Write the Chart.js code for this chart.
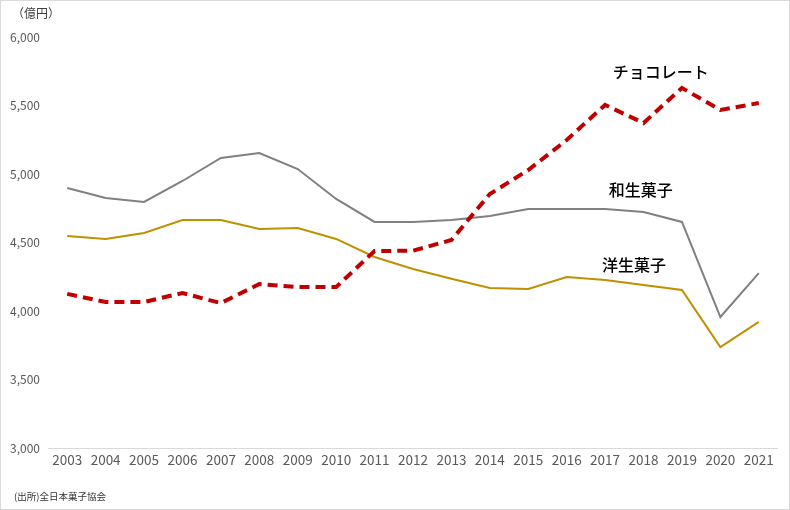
<!DOCTYPE html>
<html>
<head>
<meta charset="utf-8">
<script src="https://cdn.jsdelivr.net/npm/chart.js@4/dist/chart.umd.min.js"></script>
<style>
  html, body { margin: 0; padding: 0; background: #fff; }
  #wrap { position: relative; width: 790px; height: 510px; }
  #c { position: absolute; left: 0; top: 0; }
  #frame { position: absolute; left: 0; top: 0; width: 790px; height: 510px; box-sizing: border-box; border: 1px solid #d9d9d9; pointer-events: none; }
  .note { position: absolute; font-family: "Noto Sans CJK JP", sans-serif; color: #333; white-space: nowrap; }
</style>
</head>
<body>
<div id="wrap">
  <canvas id="c" width="790" height="510"></canvas>
  <div id="frame"></div>
  <div class="note" style="left:12px; top:4px; font-size:12px; color:#404040;">（億円）</div>
  <div class="note" style="left:14px; top:489px; font-size:9.5px; color:#333;">(出所)全日本菓子協会</div>
</div>
<script>
// 年
const years = ['2003','2004','2005','2006','2007','2008','2009','2010','2011','2012',
               '2013','2014','2015','2016','2017','2018','2019','2020','2021'];

// 億円
const chocolate = [4125, 4066, 4066, 4131, 4058, 4197, 4175, 4175, 4438, 4440,
                   4518, 4854, 5029, 5248, 5504, 5372, 5628, 5467, 5518];
const wagashi   = [4898, 4825, 4796, 4949, 5117, 5153, 5036, 4818, 4650, 4650,
                   4664, 4693, 4745, 4745, 4745, 4723, 4650, 3956, 4277];
const yogashi   = [4547, 4526, 4569, 4664, 4664, 4599, 4606, 4526, 4394, 4307,
                   4236, 4168, 4161, 4248, 4226, 4190, 4153, 3737, 3920];

const yTicks = [3000, 3500, 4000, 4500, 5000, 5500, 6000];

// 系列名ラベル（x: カテゴリ位置, y: 値）
const seriesLabels = [
    { text: 'チョコレート', x: 15.45, y: 5745 },
    { text: '和生菓子',     x: 14.93, y: 4883 },
    { text: '洋生菓子',     x: 14.75, y: 4336 },
];

const labelPlugin = {
    id: 'seriesLabels',
    afterDatasetsDraw(chart) {
        const { ctx, scales: { x, y } } = chart;
        const step = x.getPixelForValue(1) - x.getPixelForValue(0);
        ctx.save();
        ctx.font = '500 16px "Noto Sans CJK JP", sans-serif';
        ctx.fillStyle = '#000';
        ctx.textAlign = 'center';
        ctx.textBaseline = 'middle';
        seriesLabels.forEach(l => {
            const px = x.getPixelForValue(0) + step * l.x;
            ctx.fillText(l.text, px, y.getPixelForValue(l.y));
        });
        ctx.restore();
    }
};

const tickColor = '#595959';

new Chart(document.getElementById('c'), {
    type: 'line',
    data: {
        labels: years,
        datasets: [
            {
                label: 'チョコレート',
                data: chocolate,
                borderColor: '#C00000',
                borderWidth: 4,
                borderDash: [10, 6],
                pointRadius: 0,
                tension: 0,
            },
            {
                label: '和生菓子',
                data: wagashi,
                borderColor: '#808080',
                borderWidth: 2,
                pointRadius: 0,
                tension: 0,
            },
            {
                label: '洋生菓子',
                data: yogashi,
                borderColor: '#BF9000',
                borderWidth: 2,
                pointRadius: 0,
                tension: 0,
            },
        ]
    },
    options: {
        responsive: false,
        animation: false,
        layout: { padding: { top: 37, right: 12, bottom: 38, left: 0 } },
        plugins: {
            legend: { display: false },
            tooltip: { enabled: false }
        },
        scales: {
            x: {
                offset: true,
                grid: { display: false, drawTicks: false },
                border: { display: false },
                ticks: {
                    color: tickColor,
                    padding: 4,
                    maxRotation: 0,
                    autoSkip: false,
                    font: { family: '"Noto Sans CJK JP", sans-serif', size: 13.5 }
                },
                afterFit(scale) { scale.height = 24; }
            },
            y: {
                min: 3000,
                max: 6000,
                afterBuildTicks(scale) { scale.ticks = yTicks.map(v => ({ value: v })); },
                grid: {
                    drawTicks: false,
                    color: ctx => ctx.tick && ctx.tick.value === 3000 ? '#d9d9d9' : 'rgba(0,0,0,0)'
                },
                border: { display: false },
                ticks: {
                    color: tickColor,
                    padding: 8,
                    font: { family: '"Noto Sans CJK JP", sans-serif', size: 12 },
                    callback: v => v.toLocaleString('en-US')
                },
                afterFit(scale) { scale.width = 48; }
            }
        }
    },
    plugins: [labelPlugin]
});
</script>
</body>
</html>
